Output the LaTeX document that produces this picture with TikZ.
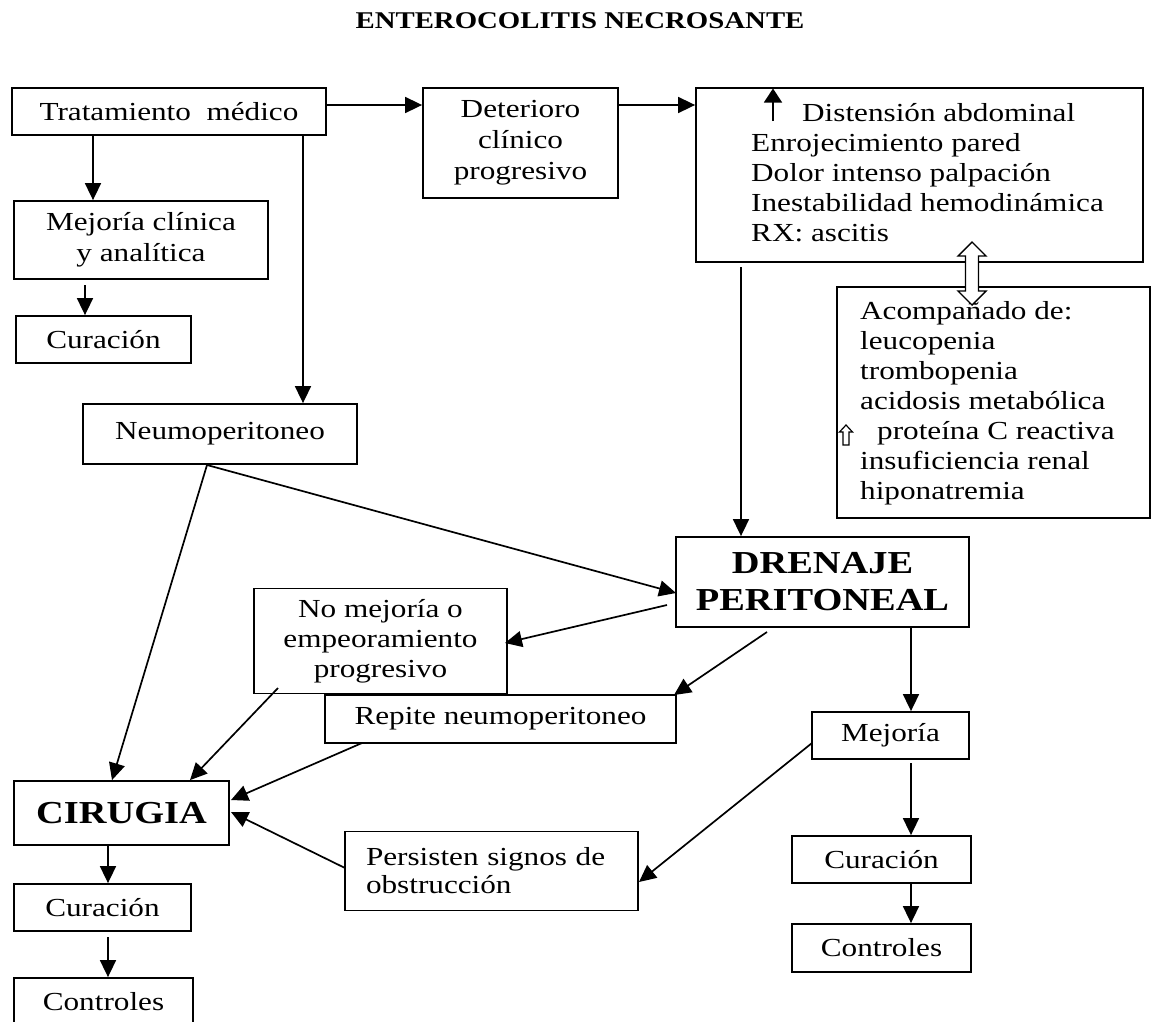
\documentclass[tikz,border=0pt]{standalone}
\usepackage{fontspec}
\setmainfont{Liberation Serif}[FakeStretch=1.2]
\usetikzlibrary{arrows.meta,calc}
\begin{document}
\begin{tikzpicture}[x=1pt,y=-1pt,
  box/.style={draw,line width=1.8pt,inner sep=0pt,align=center,font=\fontsize{26}{31}\selectfont},
  bbox/.style={box,font=\bfseries\fontsize{32}{37}\selectfont},
  txt/.style={inner sep=0pt,align=left,font=\fontsize{26}{30}\selectfont},
  arr/.style={line width=1.7pt,-{Triangle[length=17pt,width=16pt]}},
  hollow/.style={draw,line width=1.2pt,fill=white}]
\clip (0,0) rectangle (1152,1021);
\fill[white] (0,0) rectangle (1152,1021);

% title
\node[inner sep=0pt,font=\bfseries\fontsize{24}{28}\selectfont] (title) at (580,21) {ENTEROCOLITIS NECROSANTE};

% boxes
\node[box,minimum width=314pt,minimum height=47pt] (trat) at (169,111.5) {Tratamiento~~médico};
\node[box,minimum width=254pt,minimum height=78pt] (mejc) at (141,240) {Mejoría clínica\\y analítica};
\node[box,minimum width=175pt,minimum height=47pt] (cur1) at (103.5,339.5) {Curación};
\node[box,minimum width=195pt,minimum height=110pt] (det) at (520.5,143) {Deterioro\\clínico\\progresivo};
\node[box,minimum width=447pt,minimum height=174pt] (big) at (919.5,175) {};
\node[txt,anchor=west] (bigt) at (751,172.5) {\hspace*{51pt}Distensión abdominal\\Enrojecimiento pared\\Dolor intenso palpación\\Inestabilidad hemodinámica\\RX: ascitis};
\node[box,minimum width=313pt,minimum height=231pt] (aco) at (993.5,402.5) {};
\node[txt,anchor=west] (acot) at (860,403) {Acompañado de:\\leucopenia\\trombopenia\\acidosis metabólica\\\hspace*{17pt}proteína C reactiva\\insuficiencia renal\\hiponatremia};
\node[box,minimum width=274pt,minimum height=60pt] (neu) at (220,434) {Neumoperitoneo};
\node[bbox,minimum width=293pt,minimum height=90pt] (dren) at (822.5,582) {DRENAJE\\PERITONEAL};
\node[box,minimum width=253pt,minimum height=105pt,font=\fontsize{26}{30}\selectfont] (nom) at (380.5,641) {No mejoría o\\empeoramiento\\progresivo};
\node[box,minimum width=351pt,minimum height=48pt] (rep) at (500.5,719) {Repite neumoperitoneo};
\node[box,minimum width=157pt,minimum height=47pt] (mej2) at (890.5,735.5) {Mejoría};
\node[bbox,minimum width=215pt,minimum height=64pt] (cir) at (121.5,813) {CIRUGIA};
\node[box,text width=251pt,inner xsep=21pt,minimum height=79pt,align=left,font=\fontsize{26}{28}\selectfont] (per) at (491.5,871) {Persisten signos de\\obstrucción};
\node[box,minimum width=177pt,minimum height=47pt] (cur2) at (102.5,907.5) {Curación};
\node[box,minimum width=179pt,minimum height=48pt] (con1) at (103.5,1002) {Controles};
\node[box,minimum width=179pt,minimum height=47pt] (cur3) at (881.5,859.5) {Curación};
\node[box,minimum width=179pt,minimum height=48pt] (con2) at (881.5,948) {Controles};

% small symbols
\coordinate (ua1) at (773,121);
\coordinate (ua2) at (773,88.5);
\draw[line width=1.4pt,-{Triangle[length=14pt,width=18pt]}] (ua1) -- (ua2);
\draw[hollow] (846,425) -- (852.5,432) -- (849,432) -- (849,445) -- (843,445) -- (843,432) -- (839.5,432) -- cycle;
\draw[hollow,line width=1.4pt] (972,242) -- (986,256) -- (978.5,256) -- (978.5,291) -- (986,291) -- (972,305) -- (958,291) -- (965.5,291) -- (965.5,256) -- (958,256) -- cycle;

% connectors
\coordinate (r1) at (0,105);
\draw[arr] (trat.east |- r1) -- (det.west |- r1);
\draw[arr] (det.east |- r1) -- (big.west |- r1);
\coordinate (c93) at (93,0);
\draw[arr] (trat.south -| c93) -- (mejc.north -| c93);
\coordinate (c85) at (85,285);
\draw[arr] (c85) -- (cur1.north -| c85);
\coordinate (c303) at (303,0);
\draw[arr] (trat.south -| c303) -- (neu.north -| c303);
\coordinate (bd) at (741,267);
\draw[arr] (bd) -- (dren.north -| bd);
\coordinate (n1) at (207,465);
\coordinate (cx112) at (112,0);
\draw[arr] (n1) -- (cir.north -| cx112);
\coordinate (drl) at (676,593);
\draw[arr] (n1) -- (drl);
\coordinate (d1) at (667,605);
\coordinate (nome) at (505,643);
\draw[arr] (d1) -- (nome);
\coordinate (d2) at (767,632);
\coordinate (rept) at (674,695);
\draw[arr] (d2) -- (rept);
\coordinate (nb) at (278,688);
\coordinate (cx190) at (190,0);
\draw[arr] (nb) -- (cir.north -| cx190);
\coordinate (rb) at (362,743);
\coordinate (cire1) at (231,800);
\draw[arr] (rb) -- (cire1);
\coordinate (pl) at (345,868);
\coordinate (cire2) at (231,812);
\draw[arr] (pl) -- (cire2);
\coordinate (cx911) at (911,0);
\draw[arr] (dren.south -| cx911) -- (mej2.north -| cx911);
\coordinate (ml) at (812,743);
\coordinate (pe) at (639,882);
\draw[arr] (ml) -- (pe);
\coordinate (m2b) at (911,763);
\draw[arr] (m2b) -- (cur3.north -| m2b);
\draw[arr] (cur3.south -| cx911) -- (con2.north -| cx911);
\coordinate (cx108) at (108,0);
\draw[arr] (cir.south -| cx108) -- (cur2.north -| cx108);
\coordinate (c2b) at (108,937);
\draw[arr] (c2b) -- (con1.north -| c2b);
\end{tikzpicture}
\end{document}
